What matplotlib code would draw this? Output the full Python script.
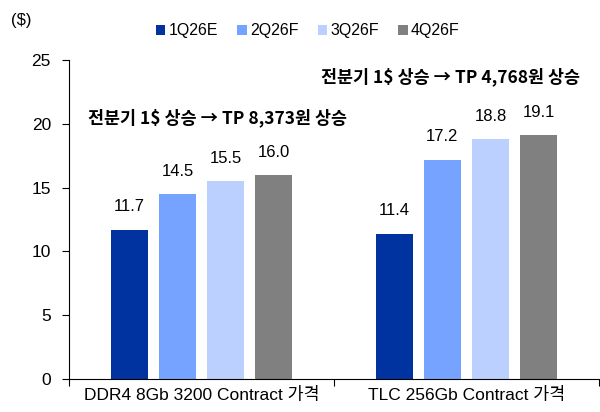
import matplotlib.pyplot as plt
import numpy as np

plt.rcParams['font.family'] = ['Liberation Sans Narrow', 'Liberation Sans', 'Noto Sans CJK KR']

categories = ['DDR4 8Gb 3200 Contract 가격', 'TLC 256Gb Contract 가격']
quarters = ['1Q26E', '2Q26F', '3Q26F', '4Q26F']
values = {
    '1Q26E': [11.7, 11.4],
    '2Q26F': [14.5, 17.2],
    '3Q26F': [15.5, 18.8],
    '4Q26F': [16.0, 19.1],
}
colors = ['#0033A0', '#75A3FF', '#BBD0FF', '#808080']
notes = ['전분기 1$ 상승 → TP 8,373원 상승', '전분기 1$ 상승 → TP 4,768원 상승']

fig = plt.figure(figsize=(6, 4.12), dpi=100)
ax = fig.add_axes([0.115, 0.080, 0.883, 0.774])

centers = np.arange(len(categories)) + 0.5
pitch = 0.1815
width = 0.141
for i, q in enumerate(quarters):
    xs = centers + (i - 1.5) * pitch
    ax.bar(xs, values[q], width, color=colors[i], label=q)
    for x, v in zip(xs, values[q]):
        ax.text(x, v + 1.2, f'{v:.1f}', ha='center', va='bottom', fontsize=12)

ax.set_xlim(0, 2)
ax.set_ylim(0, 25)
ax.set_yticks(range(0, 26, 5))
ax.set_xticks([0, 1, 2])
ax.set_xticklabels([])
ax.set_xticks(centers, minor=True)
ax.set_xticklabels(categories, minor=True, fontsize=12.5)
ax.tick_params(axis='x', which='minor', length=0, pad=6)
ax.tick_params(axis='x', which='major', length=5, direction='out')
ax.tick_params(axis='y', length=5, labelsize=12.5, pad=8)
for s in ['top', 'right']:
    ax.spines[s].set_visible(False)

ax.text(0.56, 20.45, notes[0], ha='center', va='center', fontsize=12.5,
        fontweight='bold', family=['Noto Sans CJK KR'])
ax.text(1.44, 23.67, notes[1], ha='center', va='center', fontsize=12.5,
        fontweight='bold', family=['Noto Sans CJK KR'])

fig.text(0.035, 0.95, '($)', ha='center', va='center', fontsize=12)
fig.legend(loc='center', bbox_to_anchor=(0.513, 0.925), ncol=4, frameon=False,
           fontsize=11.5, handlelength=0.6, handleheight=0.6, handletextpad=0.2,
           columnspacing=1.2)

fig.savefig('out.png', dpi=100)
